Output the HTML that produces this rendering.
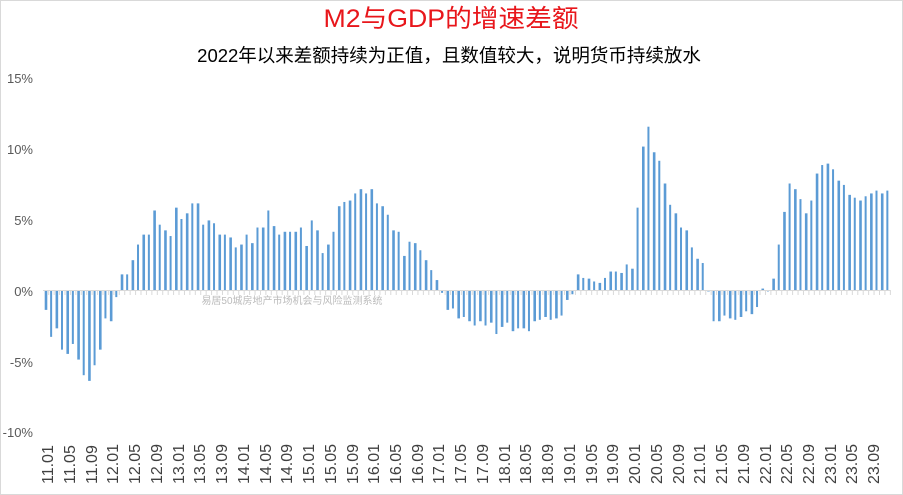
<!DOCTYPE html>
<html><head><meta charset="utf-8"><style>
html,body{margin:0;padding:0;background:#fff;}
svg{display:block;font-family:"Liberation Sans","Noto Sans CJK SC",sans-serif;}
</style></head><body>
<svg id="c" width="903" height="495" viewBox="0 0 903 495" xmlns="http://www.w3.org/2000/svg">
<rect x="0.5" y="0.5" width="902" height="494" fill="#fff" stroke="#d9d9d9"/>
<text x="451" y="27" text-anchor="middle" font-size="25" fill="#e8161b" textLength="255" lengthAdjust="spacingAndGlyphs">M2与GDP的增速差额</text>
<text x="449" y="62" text-anchor="middle" font-size="18.5" fill="#000">2022年以来差额持续为正值，且数值较大，说明货币持续放水</text>
<g font-size="13" fill="#595959" text-anchor="end">
<text x="33" y="83">15%</text>
<text x="33" y="154">10%</text>
<text x="33" y="225">5%</text>
<text x="33" y="296">0%</text>
<text x="33" y="367">-5%</text>
<text x="33" y="437">-10%</text>
</g>
<text x="292" y="304" text-anchor="middle" font-size="10" fill="#bbb">易居50城房地产市场机会与风险监测系统</text>
<g id="bars" fill="#5b9bd5"></g>
<line x1="43" y1="290.5" x2="890" y2="290.5" stroke="#d9d9d9" stroke-width="1"/>
<g id="ticks" stroke="#d9d9d9"></g>
<g font-size="16" fill="#404040">
<text transform="translate(53,484) rotate(-90)">11.01</text>
<text transform="translate(75,484) rotate(-90)">11.05</text>
<text transform="translate(97,484) rotate(-90)">11.09</text>
<text transform="translate(118,484) rotate(-90)">12.01</text>
<text transform="translate(140,484) rotate(-90)">12.05</text>
<text transform="translate(162,484) rotate(-90)">12.09</text>
<text transform="translate(184,484) rotate(-90)">13.01</text>
<text transform="translate(205,484) rotate(-90)">13.05</text>
<text transform="translate(227,484) rotate(-90)">13.09</text>
<text transform="translate(249,484) rotate(-90)">14.01</text>
<text transform="translate(271,484) rotate(-90)">14.05</text>
<text transform="translate(292,484) rotate(-90)">14.09</text>
<text transform="translate(314,484) rotate(-90)">15.01</text>
<text transform="translate(336,484) rotate(-90)">15.05</text>
<text transform="translate(358,484) rotate(-90)">15.09</text>
<text transform="translate(379,484) rotate(-90)">16.01</text>
<text transform="translate(401,484) rotate(-90)">16.05</text>
<text transform="translate(423,484) rotate(-90)">16.09</text>
<text transform="translate(444,484) rotate(-90)">17.01</text>
<text transform="translate(466,484) rotate(-90)">17.05</text>
<text transform="translate(488,484) rotate(-90)">17.09</text>
<text transform="translate(510,484) rotate(-90)">18.01</text>
<text transform="translate(531,484) rotate(-90)">18.05</text>
<text transform="translate(553,484) rotate(-90)">18.09</text>
<text transform="translate(575,484) rotate(-90)">19.01</text>
<text transform="translate(597,484) rotate(-90)">19.05</text>
<text transform="translate(618,484) rotate(-90)">19.09</text>
<text transform="translate(640,484) rotate(-90)">20.01</text>
<text transform="translate(662,484) rotate(-90)">20.05</text>
<text transform="translate(684,484) rotate(-90)">20.09</text>
<text transform="translate(705,484) rotate(-90)">21.01</text>
<text transform="translate(727,484) rotate(-90)">21.05</text>
<text transform="translate(749,484) rotate(-90)">21.09</text>
<text transform="translate(771,484) rotate(-90)">22.01</text>
<text transform="translate(792,484) rotate(-90)">22.05</text>
<text transform="translate(814,484) rotate(-90)">22.09</text>
<text transform="translate(836,484) rotate(-90)">23.01</text>
<text transform="translate(857,484) rotate(-90)">23.05</text>
<text transform="translate(879,484) rotate(-90)">23.09</text>
</g>
</svg>
<script>
var v=[-1.4,-3.3,-2.7,-4.2,-4.5,-3.8,-4.9,-6.0,-6.4,-5.3,-4.2,-2.0,-2.2,-0.5,1.1,1.1,2.1,3.2,3.9,3.9,5.6,4.6,4.2,3.8,5.8,5.0,5.4,6.1,6.1,4.6,4.9,4.7,3.9,3.9,3.7,3.0,3.2,3.9,3.3,4.4,
4.4,5.6,4.5,3.9,4.1,4.1,4.1,4.4,3.1,4.9,4.2,2.6,3.2,4.1,5.9,6.2,6.3,6.8,7.1,6.8,7.1,6.1,5.9,5.3,4.2,4.1,2.4,3.4,3.3,2.8,2.1,1.4,0.7,-0.2,
-1.4,-1.3,-2.0,-1.9,-2.2,-2.5,-2.2,-2.5,-2.3,-3.1,-2.6,-2.3,-2.9,-2.7,-2.7,-2.9,-2.2,-2.1,-1.9,-2.1,-2.0,-1.8,-0.7,-0.3,
1.1,0.85,0.8,0.6,0.5,0.85,1.3,1.3,1.2,1.8,1.5,5.8,10.1,11.5,9.7,9.1,7.5,6.0,5.4,4.4,4.2,3.0,2.2,1.9,-0.1,
-2.2,-2.2,-1.8,-2.0,-2.1,-1.9,-1.5,-1.7,-1.2,0.1,-0.1,0.8,3.2,5.5,7.5,7.1,6.4,5.4,6.3,8.2,8.8,8.9,8.5,7.7,7.4,6.7,6.5,6.3,6.6,6.8,7.0,6.8,7.0];
var ns="http://www.w3.org/2000/svg",g=document.getElementById('bars'),t=document.getElementById('ticks');
for(var i=0;i<v.length;i++){var x=46+i*5.43,h=v[i]*14.2;var r=document.createElementNS(ns,'rect');
r.setAttribute('x',(x-1.3).toFixed(2));r.setAttribute('width',(i%2?2:2.6));
r.setAttribute('y',(h>0?290-h:290).toFixed(2));r.setAttribute('height',Math.max(Math.abs(h),0.8).toFixed(2));g.appendChild(r);
var l=document.createElementNS(ns,'line');var tx=(x+2.7).toFixed(2);l.setAttribute('x1',tx);l.setAttribute('x2',tx);l.setAttribute('y1',290);l.setAttribute('y2',295);t.appendChild(l);}
</script>
</body></html>
